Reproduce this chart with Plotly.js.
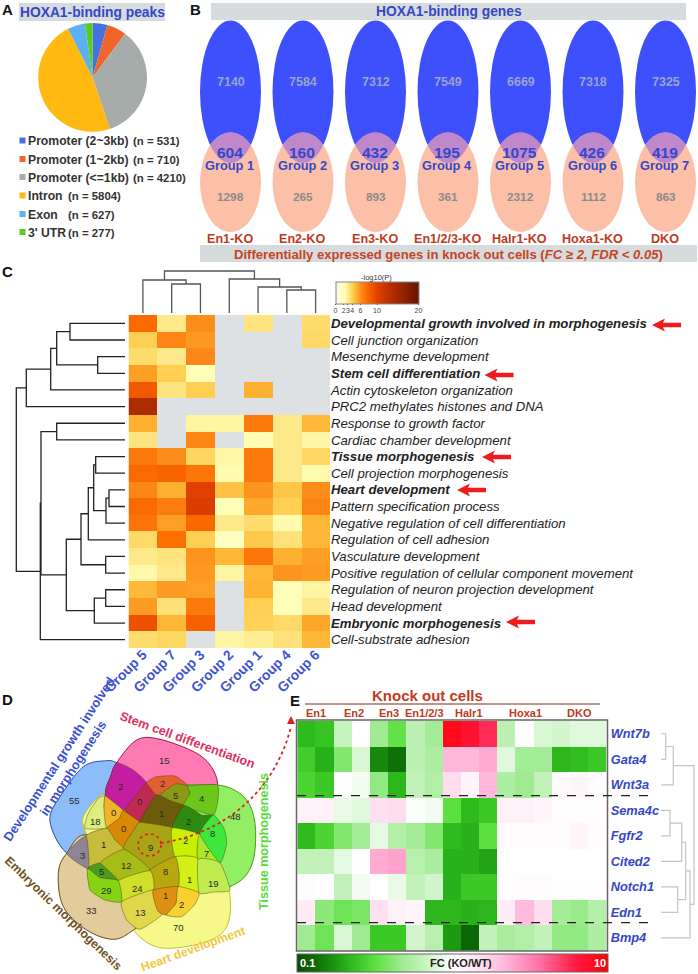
<!DOCTYPE html>
<html>
<head>
<meta charset="utf-8">
<script src="https://cdn.plot.ly/plotly-3.0.1.min.js"></script>
<style>html,body{margin:0;padding:0;background:#fff}</style>
</head>
<body>
<div id="chart" style="width:698px;height:974px"></div>
<script>
// === Panel A data ===
const peakLabels = ['Promoter (2~3kb)', 'Promoter (1~2kb)', 'Promoter (<=1kb)', 'Intron', 'Exon', "3' UTR"];
const peakCounts = [531, 710, 4210, 5804, 627, 277];
const peakColors = ['#4472e4', '#f0662a', '#a6acaa', '#ffb910', '#5cb0f2', '#58cc22'];

// === Panel B data ===
const koNames = ['En1-KO', 'En2-KO', 'En3-KO', 'En1/2/3-KO', 'Halr1-KO', 'Hoxa1-KO', 'DKO'];
const bindingOnly = [7140, 7584, 7312, 7549, 6669, 7318, 7325];
const overlapCounts = [604, 160, 432, 195, 1075, 426, 419];
const deOnly = [1298, 265, 893, 361, 2312, 1112, 863];

// === Panel C data ===
const enrichGroups = ['Group 5', 'Group 7', 'Group 3', 'Group 2', 'Group 1', 'Group 4', 'Group 6'];
const enrichTerms = [
  'Developmental growth involved in morphogenesis', 'Cell junction organization', 'Mesenchyme development',
  'Stem cell differentiation', 'Actin cytoskeleton organization', 'PRC2 methylates histones and DNA',
  'Response to growth factor', 'Cardiac chamber development', 'Tissue morphogenesis',
  'Cell projection morphogenesis', 'Heart development', 'Pattern specification process',
  'Negative regulation of cell differentiation', 'Regulation of cell adhesion', 'Vasculature development',
  'Positive regulation of cellular component movement', 'Regulation of neuron projection development',
  'Head development', 'Embryonic morphogenesis', 'Cell-substrate adhesion'
];
const boldTerms = ['Developmental growth involved in morphogenesis', 'Stem cell differentiation',
  'Tissue morphogenesis', 'Heart development', 'Embryonic morphogenesis'];
const enrichValues = [
  [7.5, 3, 6, null, 3.2, null, 3.5],
  [4, 6.3, 5.7, null, null, null, 3.6],
  [3.5, 3, 6.2, null, null, null, null],
  [5.5, 4, 2, null, null, null, null],
  [8.5, 3.2, 4, null, 5, null, null],
  [14, null, null, null, null, null, null],
  [5, null, 2.5, 2.5, 6.8, 3, 4.7],
  [3.2, null, 6.3, null, 2.1, 3, 2.4],
  [6.8, 6, 3.7, 2.4, 6.8, 3, 3.7],
  [7.5, 7.8, 7, 2.2, 6.8, 3, 2.2],
  [6.3, 5, 10, 4.4, 5.8, 4.3, 6],
  [7.5, 6.7, 10.5, 2, 5.2, 4, 6.4],
  [7.1, 5.5, 7.6, 3, 3.5, 2.2, 4.8],
  [3.6, 7.3, 4, 1.7, 4.2, 3.3, 4.8],
  [3, 3.2, 5.8, 4.8, 7, 5, 5.5],
  [2.3, 3, 5.7, 2.5, 4.8, 5.8, 5.6],
  [4.7, 5.6, 5.5, null, 4.9, 2, 2.5],
  [5.6, 3.3, 6.8, null, 4, 2, 3],
  [9, 4.8, 8, null, 3.9, 3.6, 5.3],
  [3.5, 3.7, null, 2.5, 2.8, 3.3, 4.8]
];
const enrichTicks = [0, 2, 3, 4, 6, 10, 20];
// merge trees: [left, right, height], leaves are row/column indexes
const topRows = [[[[0, 1, 55], [2, 3, 27.3], 68.3], 4, 74.3], 5, 98.7];
const heartRows = [[[8, 9, 29.3], [[10, 11, 16], 12, 19], 31.3], 13, 36.7];
const midRows = [[heartRows, [14, 15, 19.3], 44], [[16, 17, 19.3], 18, 30.7], 58.7];
const lowRows = [[[6, 7, 68.3], midRows, 84], 19, 84.7];
const enrichRowTree = [topRows, lowRows, 108.7];
const enrichColTree = [[0, [1, 2, 29], 33], [3, [4, [5, 6, 23], 26], 34], 42];

// === Panel D data ===
const vennCounts = [55, 15, 48, 70, 33, 2, 2, 0, 5, 4, 18, 0, 1, 2, 0, 8, 2, 9, 7, 1, 3, 12, 5, 8, 1, 19, 29, 24, 1, 2, 13];

// === Panel E data ===
const koSamples = ['En1 a', 'En1 b', 'En2 a', 'En2 b', 'En3 a', 'En3 b', 'En1/2/3 a', 'En1/2/3 b',
  'Halr1 a', 'Halr1 b', 'Halr1 c', 'Hoxa1 a', 'Hoxa1 b', 'Hoxa1 c', 'DKO a', 'DKO b', 'DKO c'];
const koHeaders = ['En1', 'En2', 'En3', 'En1/2/3', 'Halr1', 'Hoxa1', 'DKO'];
const genes = ['Wnt7b', 'Gata4', 'Wnt3a', 'Sema4c', 'Fgfr2', 'Cited2', 'Notch1', 'Edn1', 'Bmp4'];
const geneLogFC = [
  [-0.65, -0.62, -0.18, 0, -0.32, -0.48, -0.22, -0.3, 0.92, 0.85, 0.75, -0.22, 0, -0.12, -0.14, -0.1, -0.1],
  [-0.58, -0.68, -0.4, -0.12, -0.8, -0.87, -0.22, -0.27, 0.33, 0.33, 0.38, -0.1, -0.3, -0.3, -0.66, -0.64, -0.6],
  [-0.55, -0.6, 0, -0.04, -0.36, -0.66, -0.2, -0.26, 0.2, 0.06, 0.33, -0.27, -0.32, -0.2, 0.04, 0.05, 0.02],
  [0.08, 0.08, -0.07, -0.1, 0.18, 0.2, -0.02, -0.04, -0.5, -0.65, -0.6, 0.08, 0.08, 0.06, 0.01, 0.01, 0.01],
  [-0.65, -0.55, -0.4, -0.3, -0.08, -0.25, -0.3, -0.4, -0.65, -0.68, -0.5, 0.02, 0.03, 0.02, 0.02, 0.06, 0.02],
  [-0.2, -0.2, -0.08, 0, 0.38, 0.4, -0.24, -0.28, -0.68, -0.68, -0.72, 0, 0, 0, 0, 0, 0],
  [0.02, 0, -0.2, -0.04, 0, -0.07, -0.2, -0.15, -0.68, -0.6, -0.6, 0.01, 0.02, 0.02, 0.01, 0.01, 0.01],
  [0.12, -0.38, -0.45, -0.42, 0.18, 0.08, 0.06, -0.66, -0.66, -0.68, -0.66, 0.1, 0.32, 0.2, -0.3, -0.34, -0.25],
  [-0.32, -0.45, -0.12, -0.32, -0.6, -0.6, -0.14, -0.24, -0.75, -0.9, -0.2, -0.28, -0.25, -0.2, -0.36, -0.36, -0.27]
];
const geneTree = [[[0, 1, 4.7], 2, 12.3], [[[[3, 4, 9], 5, 20.7], [6, 7, 16.7], 24.7], 8, 29], 33];

// === Layout helpers ===
const W = 698, H = 974;
const FONT = '"Liberation Sans", Arial, sans-serif';
const BLUE = '#3547c8';
const xDom = (a, b) => [a / W, b / W];
const yDom = (top, bottom) => [1 - bottom / H, 1 - top / H];

const shapes = [];
const annotations = [];

function label(text, x, y, size, color, opts) {
  annotations.push(Object.assign({
    text: text, x: x, y: y, xref: 'x', yref: 'y', showarrow: false,
    font: { family: FONT, size: size, color: color }, align: 'center', borderpad: 0
  }, opts || {}));
}
function rect(x0, y0, x1, y1, fill, line) {
  shapes.push({ type: 'rect', xref: 'x', yref: 'y', x0: x0, y0: y0, x1: x1, y1: y1, fillcolor: fill, line: line || { width: 0 }, layer: 'above' });
}
function bold(t) { return '<b>' + t + '</b>'; }

// walk a merge tree and return line segments, pos = leaf position, height along the other axis
function dendroSegments(tree) {
  const pos = [], hgt = [];
  function walk(node) {
    if (typeof node === 'number') return { p: node, h: 0 };
    const a = walk(node[0]), b = walk(node[1]);
    pos.push(a.p, a.p, b.p, b.p, null);
    hgt.push(a.h, node[2], node[2], b.h, null);
    return { p: (a.p + b.p) / 2, h: node[2] };
  }
  walk(tree);
  return { pos: pos, hgt: hgt };
}

// smooth closed outline through the points, points read at 3x zoom of panel D.
// soft = 1/6 gives round lobes, smaller keeps the corners of the inner regions
function blobPath(pts, soft) {
  const p = pts.map(q => [q[0] / 3, q[1] / 3 + 700]);
  const n = p.length;
  let d = 'M' + p[0][0].toFixed(1) + ',' + p[0][1].toFixed(1);
  for (let i = 0; i < n; i++) {
    const p0 = p[(i - 1 + n) % n], p1 = p[i], p2 = p[(i + 1) % n], p3 = p[(i + 2) % n];
    const c1 = [p1[0] + (p2[0] - p0[0]) * soft, p1[1] + (p2[1] - p0[1]) * soft];
    const c2 = [p2[0] - (p3[0] - p1[0]) * soft, p2[1] - (p3[1] - p1[1]) * soft];
    d += 'C' + c1[0].toFixed(1) + ',' + c1[1].toFixed(1) + ' ' + c2[0].toFixed(1) + ',' + c2[1].toFixed(1) + ' ' + p2[0].toFixed(1) + ',' + p2[1].toFixed(1);
  }
  return d + 'Z';
}

function redArrow(tipX, y) {
  const tail = tipX + 29;
  const d = 'M' + tipX + ',' + y + 'L' + (tipX + 13) + ',' + (y - 6.5) + 'L' + (tipX + 11) + ',' + (y - 2.2) +
    'L' + tail + ',' + (y - 2.2) + 'L' + tail + ',' + (y + 2.2) + 'L' + (tipX + 11) + ',' + (y + 2.2) + 'L' + (tipX + 13) + ',' + (y + 6.5) + 'Z';
  shapes.push({ type: 'path', xref: 'x', yref: 'y', path: d, fillcolor: '#ee1c1c', line: { width: 0 }, layer: 'above' });
}

// === Panel letters ===
label(bold('A'), 7, 9, 15, '#111');
label(bold('B'), 195, 9, 15, '#111');
label(bold('C'), 7, 271, 15, '#111');
label(bold('D'), 7, 699, 15, '#111');
label(bold('E'), 295, 700, 15, '#111');

// === Panel A text ===
rect(19, 3, 165, 21, '#d6dbdd');
label(bold('HOXA1-binding peaks'), 92, 12, 13.8, BLUE);
const peakRowY = [141, 159.5, 177.5, 196, 214.5, 232.5];
const countX = [131.5, 131.5, 131.5, 66.5, 66.5, 67];
peakLabels.forEach((name, i) => {
  rect(19.5, peakRowY[i] - 3.5, 25.5, peakRowY[i] + 2.5, peakColors[i]);
  label(bold(name.replace('<', '&lt;')), 26.5, peakRowY[i], 12.2, '#333', { xanchor: 'left' });
  label(bold('(n = ' + peakCounts[i] + ')'), countX[i], peakRowY[i], 11.4, '#333', { xanchor: 'left' });
});

// === Panel B ===
rect(211, 3, 686, 20, '#d6dbdd');
label(bold('HOXA1-binding genes'), 449, 11, 13.8, BLUE);
rect(200, 245, 697, 262, '#d6dbdd');
label('<b>Differentially expressed genes in knock out cells (<i>FC ≥ 2, FDR &lt; 0.05</i>)</b>', 448, 254, 13.1, '#c8431f');

const columnX = koNames.map((n, i) => 230.5 + i * 72.5);
const BLUE_TOP = 20.5, BLUE_BOT = 163, PEACH_TOP = 132.5, PEACH_BOT = 232, RX = 30.5;
columnX.forEach((cx, i) => {
  shapes.push({ type: 'circle', xref: 'x', yref: 'y', x0: cx - RX, x1: cx + RX, y0: BLUE_TOP, y1: BLUE_BOT, fillcolor: '#3d50fb', line: { width: 0 }, layer: 'above' });
  shapes.push({ type: 'circle', xref: 'x', yref: 'y', x0: cx - RX, x1: cx + RX, y0: PEACH_TOP, y1: PEACH_BOT, fillcolor: '#fcc0a9', line: { width: 0 }, layer: 'above' });
  // lens where the two ovals cross
  const ryB = (BLUE_BOT - BLUE_TOP) / 2, cyB = (BLUE_BOT + BLUE_TOP) / 2;
  const ryP = (PEACH_BOT - PEACH_TOP) / 2, cyP = (PEACH_BOT + PEACH_TOP) / 2;
  const lens = [];
  for (let a = -180; a <= 0; a += 5) { // upper arc of the peach oval
    const t = a * Math.PI / 180, x = RX * Math.cos(t), y = cyP + ryP * Math.sin(t);
    if (Math.pow(x / RX, 2) + Math.pow((y - cyB) / ryB, 2) <= 1) lens.push([cx + x, y]);
  }
  for (let a = 0; a <= 180; a += 5) { // lower arc of the blue oval
    const t = a * Math.PI / 180, x = RX * Math.cos(t), y = cyB + ryB * Math.sin(t);
    if (Math.pow(x / RX, 2) + Math.pow((y - cyP) / ryP, 2) <= 1) lens.push([cx + x, y]);
  }
  shapes.push({ type: 'path', xref: 'x', yref: 'y', path: 'M' + lens.map(q => q[0].toFixed(1) + ',' + q[1].toFixed(1)).join('L') + 'Z', fillcolor: '#bf88ca', line: { width: 0 }, layer: 'above' });

  label(bold(bindingOnly[i]), cx, 82, 12.5, '#9aa3cf');
  label(bold(overlapCounts[i]), cx - 1, 152.5, 15.5, BLUE);
  label(bold('Group ' + (i + 1)), cx - 1, 165.5, 12.8, BLUE);
  label(bold(deOnly[i]), cx, 197, 11.8, '#8b8b8b');
  label(bold(koNames[i]), cx - 1, 238.5, 12.6, '#bf3a22');
});

// === Panel C annotations ===
label('-log10(P)', 376, 277, 7.5, '#333');
[652, 484.5, 482, 457, 506].forEach((tip, i) => redArrow(tip, [325, 375, 457, 490, 622][i]));

// === Panel D ===
// outer lobes
const petals = [
  { fill: '#8dbdf8', edge: '#2a45b8', pts: [[320, 182], [250, 200], [180, 290], [150, 350], [165, 410], [200, 460], [262, 512], [350, 542], [450, 520], [520, 475], [530, 420], [520, 375], [480, 300], [440, 240], [395, 207], [350, 188]] },
  { fill: '#ff7ab2', edge: '#9a1850', pts: [[350, 188], [410, 120], [480, 118], [590, 160], [640, 210], [655, 270], [650, 340], [600, 400], [520, 380], [420, 368], [372, 335], [318, 285], [333, 225]] },
  { fill: '#92ee62', edge: '#3ea020', pts: [[510, 258], [600, 255], [680, 260], [740, 300], [765, 370], [762, 470], [730, 535], [660, 570], [590, 575], [530, 570], [460, 578], [380, 600], [330, 605], [280, 585], [262, 540], [270, 510], [320, 480], [375, 445], [420, 368], [470, 290]] },
  { fill: '#f6f88a', edge: '#c4c428', pts: [[690, 590], [680, 680], [620, 725], [500, 745], [430, 720], [380, 660], [362, 600], [360, 540], [340, 490], [275, 440], [258, 400], [250, 350], [300, 288], [330, 295], [372, 335], [420, 368], [530, 380], [600, 400], [660, 488]] },
  { fill: '#e2cc9c', edge: '#6a4a18', pts: [[200, 460], [175, 520], [190, 620], [260, 690], [340, 718], [400, 690], [465, 630], [400, 500], [262, 405]] }
];
petals.forEach(p => shapes.push({ type: 'path', xref: 'x', yref: 'y', path: blobPath(p.pts, 1 / 6), fillcolor: p.fill, line: { color: p.edge, width: 1 }, layer: 'above' }));

// the inner crossings have their own tint in the source figure
const regions = [
  ['#c41ea0', [[350, 188], [400, 210], [440, 248], [418, 275], [375, 330], [345, 310], [315, 288], [330, 235]]], // 2
  ['#c02a50', [[440, 248], [468, 285], [420, 367], [375, 330], [418, 275]]], // 0
  ['#e06030', [[440, 248], [470, 230], [525, 228], [565, 258], [525, 270], [477, 288], [468, 285]]], // 2
  ['#8a9a14', [[477, 288], [525, 252], [565, 258], [570, 280], [555, 315], [510, 302]]], // 5
  ['#6a5c0a', [[468, 285], [510, 302], [552, 317], [535, 345], [518, 383], [470, 375], [420, 367]]], // 1
  ['#6cc818', [[565, 258], [650, 254], [655, 290], [640, 345], [552, 317], [570, 280]]], // 4
  ['#2e8a10', [[552, 317], [605, 345], [640, 348], [600, 402], [518, 383]]], // 2
  ['#dcee80', [[315, 288], [295, 295], [265, 340], [255, 385], [320, 385], [322, 360], [312, 320]]], // 18
  ['#f0b428', [[315, 288], [345, 310], [370, 332], [358, 355], [320, 385], [312, 330]]], // 0
  ['#d98806', [[370, 332], [420, 367], [405, 385], [370, 448], [340, 420], [320, 385], [358, 355]]], // 0
  ['#a8a416', [[420, 367], [518, 383], [515, 420], [525, 470], [450, 510], [370, 448], [405, 385]]], // 9
  ['#c8f000', [[518, 383], [600, 402], [592, 440], [595, 478], [560, 468], [525, 472], [515, 425]]], // 2
  ['#d0f018', [[525, 472], [560, 468], [595, 478], [597, 578], [535, 560], [537, 520]]], // 1
  ['#a8e828', [[600, 402], [660, 488], [595, 478], [592, 440]]], // 7
  ['#3ce83c', [[600, 402], [640, 345], [672, 385], [680, 430], [660, 488]]], // 8
  ['#c0ec50', [[595, 478], [660, 488], [690, 570], [640, 576], [597, 578]]], // 19
  ['#c8bc3c', [[258, 408], [320, 385], [345, 420], [372, 448], [325, 478], [265, 505]]], // 1
  ['#8f8496', [[200, 460], [258, 408], [265, 505]]], // 3
  ['#a8bc18', [[300, 490], [372, 448], [450, 510], [355, 542]]], // 12
  ['#4c9a1e', [[263, 505], [300, 490], [355, 542], [300, 532]]], // 5
  ['#b8a80e', [[450, 510], [525, 470], [537, 520], [535, 560], [495, 565], [460, 570]]], // 8
  ['#cfe028', [[355, 542], [450, 512], [460, 570], [365, 605]]], // 24
  ['#84d414', [[262, 505], [300, 533], [355, 542], [365, 605], [315, 600], [270, 570]]], // 29
  ['#e0d84a', [[365, 605], [460, 570], [470, 620], [485, 645], [420, 688], [380, 660]]], // 13
  ['#e09010', [[460, 570], [535, 560], [528, 610], [500, 645], [475, 635], [465, 610]]], // 1
  ['#f8d030', [[535, 560], [597, 578], [585, 612], [545, 650], [500, 645], [528, 610]]] // 2
];
regions.forEach(r => shapes.push({ type: 'path', xref: 'x', yref: 'y', path: blobPath(r[1], 1 / 12), fillcolor: r[0], line: { color: 'rgba(70,60,20,0.55)', width: 0.8 }, layer: 'above' }));

const vennSpots = [[224, 302], [492, 180], [705, 350], [535, 682], [273, 630], [362, 258], [487, 250], [418, 303], [527, 287], [604, 296], [287, 363], [340, 338], [485, 340], [566, 365], [370, 385], [638, 400], [555, 422], [451, 442], [620, 460], [309, 433], [247, 465], [380, 497], [303, 513], [497, 515], [568, 538], [640, 550], [320, 570], [412, 565], [495, 585], [545, 613], [421, 637]];
vennCounts.forEach((n, i) => label(String(n), vennSpots[i][0] / 3, vennSpots[i][1] / 3 + 700, 9.5, '#2a2a2a'));

label(bold('Developmental growth involved<br>in morphogenesis'), 66, 764, 12.8, '#3a4fd0', { textangle: -57, align: 'center' });
label(bold('Stem cell differentiation'), 187, 740, 12.6, '#e0305f', { textangle: 20 });
label(bold('Tissue morphogenesis'), 264, 842, 12.6, '#58dc3c', { textangle: -90 });
label(bold('Embryonic morphogenesis'), 63, 913, 12.2, '#6d5220', { textangle: 44 });
label(bold('Heart development'), 193, 948.5, 12.2, '#f2c83a', { textangle: -20 });

// dotted link from the center region to panel E
shapes.push({ type: 'circle', xref: 'x', yref: 'y', x0: 138, x1: 161, y0: 834, y1: 856, line: { color: '#e02020', width: 1.6, dash: 'dot' }, layer: 'above' });
shapes.push({ type: 'path', xref: 'x', yref: 'y', path: 'M161,843C215,835 272,800 291,727', line: { color: '#e02020', width: 1.8, dash: 'dot' }, layer: 'above' });
shapes.push({ type: 'path', xref: 'x', yref: 'y', path: 'M291,716L295,724L287,724Z', fillcolor: '#e02020', line: { width: 0 }, layer: 'above' });

// === Panel E annotations ===
label(bold('Knock out cells'), 427, 695, 15, '#c43a22');
shapes.push({ type: 'line', xref: 'x', yref: 'y', x0: 305, x1: 600, y0: 704, y1: 704, line: { color: '#7a2a1a', width: 1.2 }, layer: 'above' });
const headerX = [315.5, 354, 389, 424, 469, 525, 579];
koHeaders.forEach((h, i) => label(bold(h), headerX[i], 713, 11, '#bf3a22'));
rect(296.5, 720, 607.5, 951, 'rgba(0,0,0,0)', { color: '#666', width: 1.5 });
[795.7, 922.7].forEach(y => shapes.push({ type: 'line', xref: 'x', yref: 'y', x0: 297, x1: 655.5, y0: y, y1: y, line: { color: '#222', width: 1.2, dash: 'dash' }, layer: 'above' }));
label(bold('0.1'), 307, 963, 11, '#fff');
label(bold('FC (KO/WT)'), 461, 963, 11, '#222');
label(bold('10'), 600, 963, 11, '#fff');

// === Traces ===
const enrichScale = [
  [0, '#f4f4ee'], [0.05, '#ffffd0'], [0.1, '#ffffb8'], [0.15, '#fee98a'], [0.2, '#fecf52'], [0.25, '#feb030'],
  [0.3, '#fd8d1a'], [0.375, '#fb6a00'], [0.5, '#e04000'], [0.65, '#b83000'], [1, '#651400']
];
const fcScale = [
  [0, '#0a4a00'], [0.06, '#0e6c06'], [0.125, '#1c9a12'], [0.19, '#35c422'], [0.25, '#5ce040'], [0.33, '#9aea8c'],
  [0.42, '#cdf4c6'], [0.5, '#ffffff'], [0.6, '#ffdcee'], [0.68, '#ffb0d8'], [0.78, '#ff70a4'], [0.9, '#ff1840'], [1, '#ff0000']
];

const rowDendro = dendroSegments(enrichRowTree);
const colDendro = dendroSegments(enrichColTree);
const geneDendro = dendroSegments(geneTree);
const naMask = enrichValues.map(r => r.map(v => (v === null ? 1 : null)));

const data = [
  {
    type: 'pie', values: peakCounts, labels: peakLabels, sort: false, direction: 'clockwise', rotation: 0,
    marker: { colors: peakColors, line: { width: 0 } }, textinfo: 'none', showlegend: false,
    domain: { x: xDom(38.2, 147), y: yDom(23, 131.8) }
  },
  // hidden trace so the page axes exist
  { type: 'scatter', x: [0, W], y: [0, H], mode: 'none', xaxis: 'x', yaxis: 'y', showlegend: false, hoverinfo: 'skip' },
  {
    type: 'heatmap', z: naMask, xaxis: 'x2', yaxis: 'y2', zmin: 0, zmax: 1, showscale: false, hoverinfo: 'skip',
    colorscale: [[0, '#dde1e3'], [1, '#dde1e3']]
  },
  {
    type: 'heatmap', z: enrichValues, xaxis: 'x2', yaxis: 'y2', zmin: 0, zmax: 20, colorscale: enrichScale,
    colorbar: {
      orientation: 'h', x: 335.5 / W, xanchor: 'left', y: 1 - 282 / H, yanchor: 'top', xpad: 0, ypad: 0,
      lenmode: 'pixels', len: 82.5, thicknessmode: 'pixels', thickness: 22, outlinecolor: '#888', outlinewidth: 1,
      tickmode: 'array', tickvals: enrichTicks, ticktext: enrichTicks.map(String), ticks: 'outside', ticklen: 1, tickangle: 0,
      tickfont: { family: FONT, size: 7, color: '#444' }
    }
  },
  { type: 'scatter', mode: 'lines', x: rowDendro.hgt.map(h => h === null ? null : 125 - h), y: rowDendro.pos, xaxis: 'x3', yaxis: 'y2', line: { color: '#222', width: 1.3 }, showlegend: false, hoverinfo: 'skip' },
  { type: 'scatter', mode: 'lines', x: colDendro.pos, y: colDendro.hgt, xaxis: 'x2', yaxis: 'y3', line: { color: '#555', width: 1.3 }, showlegend: false, hoverinfo: 'skip' },
  {
    type: 'heatmap', z: geneLogFC, xaxis: 'x4', yaxis: 'y4', zmin: -1, zmax: 1, colorscale: fcScale,
    colorbar: {
      orientation: 'h', x: 297 / W, xanchor: 'left', y: 1 - 954 / H, yanchor: 'top', xpad: 0, ypad: 0,
      lenmode: 'pixels', len: 311, thicknessmode: 'pixels', thickness: 18, outlinecolor: '#666', outlinewidth: 1,
      showticklabels: false, ticks: ''
    }
  },
  { type: 'scatter', mode: 'lines', x: geneDendro.hgt, y: geneDendro.pos, xaxis: 'x5', yaxis: 'y4', line: { color: '#c4c4c4', width: 1.2 }, showlegend: false, hoverinfo: 'skip' }
];

const hidden = { visible: false, showgrid: false, zeroline: false };
const layout = {
  width: W, height: H,
  margin: { l: 0, r: 0, t: 0, b: 0, pad: 0 },
  paper_bgcolor: '#fff', plot_bgcolor: 'rgba(0,0,0,0)',
  font: { family: FONT },
  showlegend: false, hovermode: false,
  shapes: shapes, annotations: annotations,
  // page axes: one unit is one pixel
  xaxis: Object.assign({}, hidden, { domain: [0, 1], range: [0, W], anchor: 'y', fixedrange: true }),
  yaxis: Object.assign({}, hidden, { domain: [0, 1], range: [H, 0], anchor: 'x', fixedrange: true }),
  // panel C heatmap
  xaxis2: {
    domain: xDom(128.5, 330), range: [-0.5, 6.5], anchor: 'y2', tickmode: 'array',
    tickvals: enrichGroups.map((g, i) => i), ticktext: enrichGroups.map(g => bold(g)), tickangle: -45, ticks: '', ticklabelstandoff: -5,
    showgrid: false, zeroline: false, showline: false, tickfont: { family: FONT, size: 13.8, color: '#3f54d0' }
  },
  yaxis2: {
    domain: yDom(315, 648), range: [19.5, -0.5], anchor: 'x2', side: 'right', tickmode: 'array',
    tickvals: enrichTerms.map((t, i) => i),
    ticktext: enrichTerms.map(t => boldTerms.includes(t) ? '<b><i>' + t + '</i></b>' : '<i>' + t + '</i>'),
    ticks: '', showgrid: false, zeroline: false, showline: false, tickfont: { family: FONT, size: 13.2, color: '#222' }
  },
  xaxis3: Object.assign({}, hidden, { domain: xDom(0, 125), range: [0, 125], anchor: 'y2' }),
  yaxis3: Object.assign({}, hidden, { domain: yDom(268, 313), range: [0, 45], anchor: 'x2' }),
  // panel E heatmap
  xaxis4: Object.assign({}, hidden, { domain: xDom(297.3, 606.7), range: [-0.5, 16.5], anchor: 'y4', tickvals: koSamples.map((s, i) => i) }),
  yaxis4: {
    domain: yDom(721, 950.7), range: [8.5, -0.5], anchor: 'x4', side: 'right', tickmode: 'array',
    tickvals: genes.map((g, i) => i), ticktext: genes.map(g => '<b><i>' + g + '</i></b>'), ticklabelstandoff: 3,
    ticks: '', showgrid: false, zeroline: false, showline: false, tickfont: { family: FONT, size: 12.8, color: '#3547c8' }
  },
  xaxis5: Object.assign({}, hidden, { domain: xDom(661, 696), range: [0, 35], anchor: 'y4' })
};

Plotly.newPlot('chart', data, layout, { displayModeBar: false, staticPlot: true });
</script>
</body>
</html>
